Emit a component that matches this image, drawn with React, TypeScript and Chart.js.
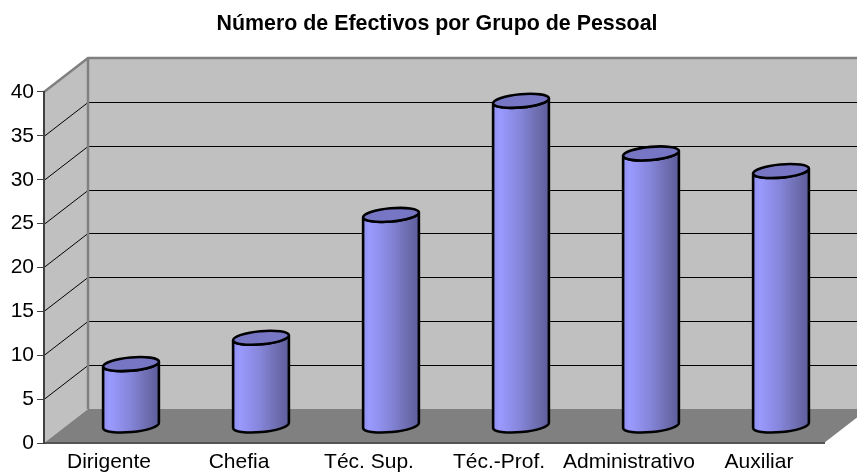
import React, { useEffect, useRef } from "react";
import { Chart, registerables } from "chart.js";

Chart.register(...registerables);

const categories = ["Dirigente", "Chefia", "Téc. Sup.", "Téc.-Prof.", "Administrativo", "Auxiliar"];
const efectivos = [7, 10, 24, 37, 31, 29];
const yTicks = [0, 5, 10, 15, 20, 25, 30, 35, 40];
const chartTitle = "Número de Efectivos por Grupo de Pessoal";

const DX = 44;
const DY = 34;
const FONT = "'Liberation Sans', Arial, sans-serif";

const cubePlugin = {
  id: "cube3d",
  afterLayout(chart: any) {
    if (chart.titleBlock) {
      chart.titleBlock.left += 25;
      chart.titleBlock.right += 25;
    }
  },
  beforeDraw(chart: any) {
    const { ctx, chartArea: a, scales } = chart;
    const y = scales.y;
    const L = a.left, R = a.right, T = a.top, B = a.bottom;
    ctx.save();
    // back wall
    ctx.fillStyle = "#C0C0C0";
    ctx.fillRect(L + DX, T - DY, R - L, B - T);
    // side wall
    ctx.beginPath();
    ctx.moveTo(L, T);
    ctx.lineTo(L + DX, T - DY);
    ctx.lineTo(L + DX, B - DY);
    ctx.lineTo(L, B);
    ctx.closePath();
    ctx.fill();
    // floor
    ctx.fillStyle = "#808080";
    ctx.beginPath();
    ctx.moveTo(L, B);
    ctx.lineTo(L + DX, B - DY);
    ctx.lineTo(R + DX, B - DY);
    ctx.lineTo(R, B);
    ctx.closePath();
    ctx.fill();
    // grid lines
    ctx.strokeStyle = "#000";
    ctx.lineWidth = 1;
    for (const t of yTicks) {
      if (t === 0 || t === 40) continue;
      const py = Math.round(y.getPixelForValue(t)) + 0.5;
      ctx.beginPath();
      ctx.moveTo(L, py);
      ctx.lineTo(L + DX, py - DY);
      ctx.lineTo(R + DX, py - DY);
      ctx.stroke();
    }
    // wall edges
    ctx.strokeStyle = "#808080";
    ctx.lineWidth = 2.5;
    ctx.beginPath();
    ctx.moveTo(L, T);
    ctx.lineTo(L + DX, T - DY);
    ctx.lineTo(R + DX, T - DY);
    ctx.moveTo(L + DX, T - DY);
    ctx.lineTo(L + DX, B - DY);
    ctx.stroke();
    ctx.restore();
  },
  beforeDatasetDraw(chart: any, args: any) {
    const { ctx, scales } = chart;
    const meta = chart.getDatasetMeta(args.index);
    const base = scales.y.getPixelForValue(0) - DY / 2 - 0.5;
    const rx = 28, ry = 6.6, rot = -0.09;
    for (const el of meta.data) {
      const cx = el.x + DX / 2;
      const top = el.y - DY / 2 - 0.5;
      const dx = rx * Math.cos(rot), dyy = rx * Math.sin(rot);
      const g = ctx.createLinearGradient(cx - rx, 0, cx + rx, 0);
      g.addColorStop(0, "#8F8FF0");
      g.addColorStop(0.12, "#9A9AFF");
      g.addColorStop(0.5, "#8484D8");
      g.addColorStop(0.8, "#6C6CAE");
      g.addColorStop(1, "#5E5E9E");
      ctx.save();
      ctx.lineWidth = 2.6;
      ctx.strokeStyle = "#000";
      ctx.lineJoin = "round";
      ctx.beginPath();
      ctx.moveTo(cx - dx, top - dyy);
      ctx.lineTo(cx - dx, base - dyy);
      ctx.ellipse(cx, base, rx, ry, rot, Math.PI, 0, true);
      ctx.lineTo(cx + dx, top + dyy);
      ctx.ellipse(cx, top, rx, ry, rot, 0, Math.PI, false);
      ctx.closePath();
      ctx.fillStyle = g;
      ctx.fill();
      ctx.stroke();
      ctx.beginPath();
      ctx.ellipse(cx, top, rx, ry, rot, 0, Math.PI * 2);
      ctx.fillStyle = "#7676C4";
      ctx.fill();
      ctx.stroke();
      ctx.restore();
    }
    return false;
  },
};

export default function App() {
  const ref = useRef<HTMLCanvasElement>(null);
  useEffect(() => {
    const chart = new Chart(ref.current as HTMLCanvasElement, {
      type: "bar",
      data: {
        labels: categories,
        datasets: [{ label: "Efectivos", data: efectivos, backgroundColor: "#9999FF", borderColor: "#000" }],
      },
      options: {
        responsive: false,
        animation: false,
        layout: { padding: { left: 0, right: 33, top: 0, bottom: 0 } },
        plugins: {
          legend: { display: false },
          tooltip: { enabled: false },
          title: {
            display: true,
            text: chartTitle,
            color: "#000",
            font: { family: FONT, size: 21.4, weight: "bold" },
            padding: { top: 11, bottom: 55.3 },
          },
        },
        scales: {
          x: {
            afterFit(s: any) { s.height = 29; },
            grid: { display: false, drawTicks: false },
            border: { color: "#555", width: 2 },
            ticks: { color: "#000", maxRotation: 0, autoSkip: false, padding: 7, font: { family: FONT, size: 21 } },
          },
          y: {
            min: 0,
            max: 40,
            afterFit(s: any) { s.width = 44; },
            grid: { drawOnChartArea: false, color: "#404040", tickLength: 7, tickWidth: 1 },
            border: { color: "#404040", width: 2 },
            ticks: { stepSize: 5, color: "#000", padding: 3, font: { family: FONT, size: 21 } },
          },
        },
      } as any,
      plugins: [cubePlugin as any],
    });
    return () => chart.destroy();
  }, []);
  return (
    <canvas
      ref={ref}
      width={857}
      height={472}
      style={{ position: "absolute", left: 0, top: 0, display: "block" }}
    />
  );
}
